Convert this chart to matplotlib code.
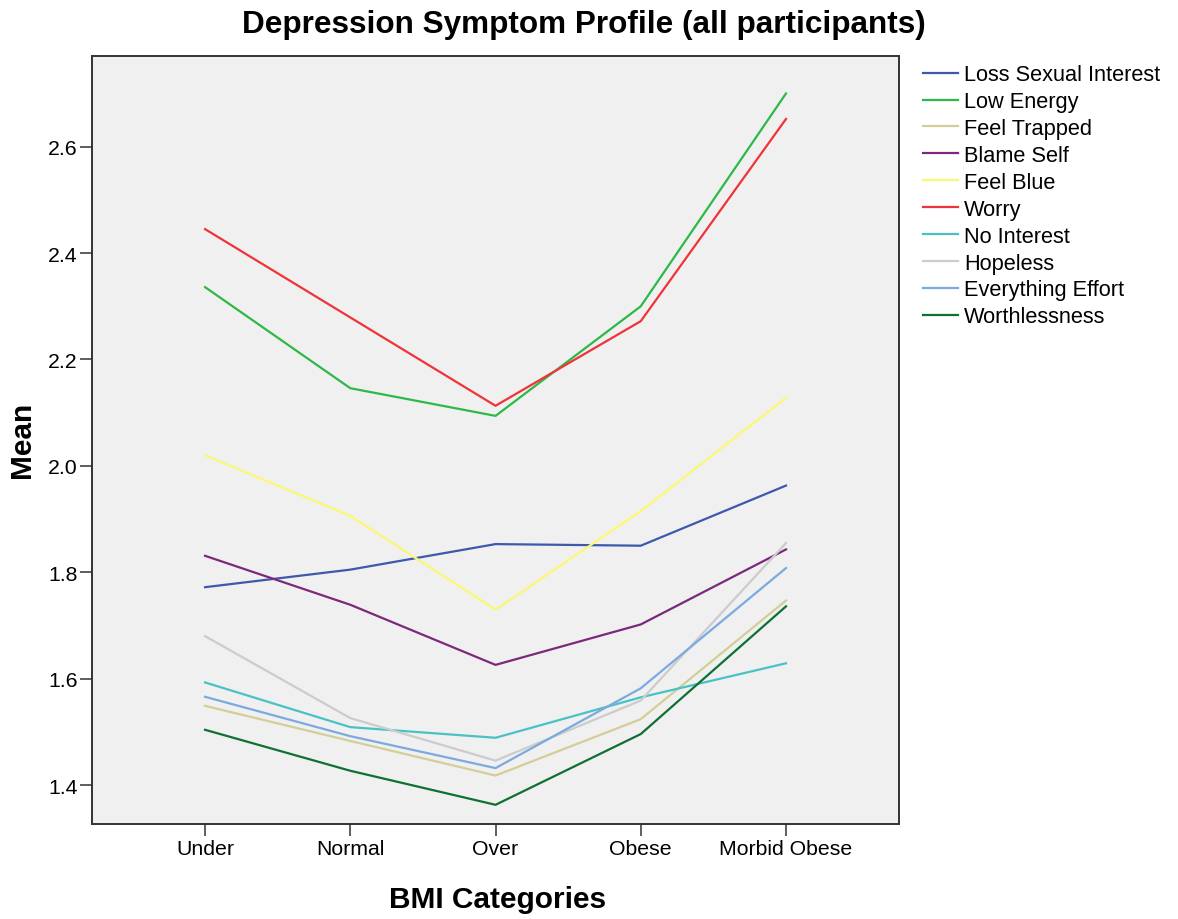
import matplotlib
matplotlib.use("Agg")
import matplotlib.pyplot as plt

plt.rcParams["font.family"] = ["Liberation Sans", "DejaVu Sans"]

categories = ["Under", "Normal", "Over", "Obese", "Morbid Obese"]

loss_sexual_interest = [1.772, 1.805, 1.853, 1.850, 1.963]
low_energy = [2.336, 2.146, 2.094, 2.300, 2.700]
feel_trapped = [1.549, 1.483, 1.418, 1.524, 1.747]
blame_self = [1.831, 1.739, 1.626, 1.702, 1.843]
feel_blue = [2.020, 1.906, 1.730, 1.915, 2.128]
worry = [2.445, 2.279, 2.113, 2.272, 2.652]
no_interest = [1.593, 1.509, 1.489, 1.565, 1.629]
hopeless = [1.680, 1.526, 1.446, 1.559, 1.855]
everything_effort = [1.566, 1.492, 1.432, 1.582, 1.808]
worthlessness = [1.504, 1.427, 1.363, 1.496, 1.736]

series = [
    ("Loss Sexual Interest", loss_sexual_interest, "#3e58ac"),
    ("Low Energy", low_energy, "#2eb848"),
    ("Feel Trapped", feel_trapped, "#d3ce97"),
    ("Blame Self", blame_self, "#7c287d"),
    ("Feel Blue", feel_blue, "#fbf873"),
    ("Worry", worry, "#ef3338"),
    ("No Interest", no_interest, "#48c2c5"),
    ("Hopeless", hopeless, "#cccccc"),
    ("Everything Effort", everything_effort, "#7aaae0"),
    ("Worthlessness", worthlessness, "#0e7032"),
]


def main():
    fig = plt.figure(figsize=(11.78, 9.2), dpi=100)
    ax = fig.add_axes([0.0784, 0.1033, 0.685, 0.8351])
    ax.set_facecolor("#f0f0f0")

    x = list(range(len(categories)))
    for name, vals, color in series:
        ax.plot(x, vals, color=color, lw=1.6, label=name)

    ax.set_xlim(-0.776, 4.78)
    ax.set_ylim(1.327, 2.771)
    ax.set_xticks(x)
    ax.set_xticklabels(categories)
    ax.set_yticks([1.4, 1.6, 1.8, 2.0, 2.2, 2.4, 2.6])
    ax.set_yticklabels(["1.4", "1.6", "1.8", "2.0", "2.2", "2.4", "2.6"])
    ax.tick_params(length=8.5, width=1.1, labelsize=15.3, pad=2, color="#333333")

    for s in ax.spines.values():
        s.set_color("#333333")
        s.set_linewidth(1.4)

    fig.text(0.496, 0.973, "Depression Symptom Profile (all participants)",
             ha="center", va="center", fontsize=22.7, fontweight="bold")
    fig.text(0.422, 0.022, "BMI Categories", ha="center", va="center",
             fontsize=21.5, fontweight="bold")
    fig.text(0.019, 0.522, "Mean", ha="center", va="center", rotation=90,
             fontsize=21.5, fontweight="bold")

    fig.legend(loc="upper left", bbox_to_anchor=(0.7835, 0.929), frameon=False,
               fontsize=15.7, handlelength=1.6, handletextpad=0.3,
               labelspacing=0.27, borderpad=0, borderaxespad=0)

    fig.savefig("out.png", dpi=100)


if __name__ == "__main__":
    main()
